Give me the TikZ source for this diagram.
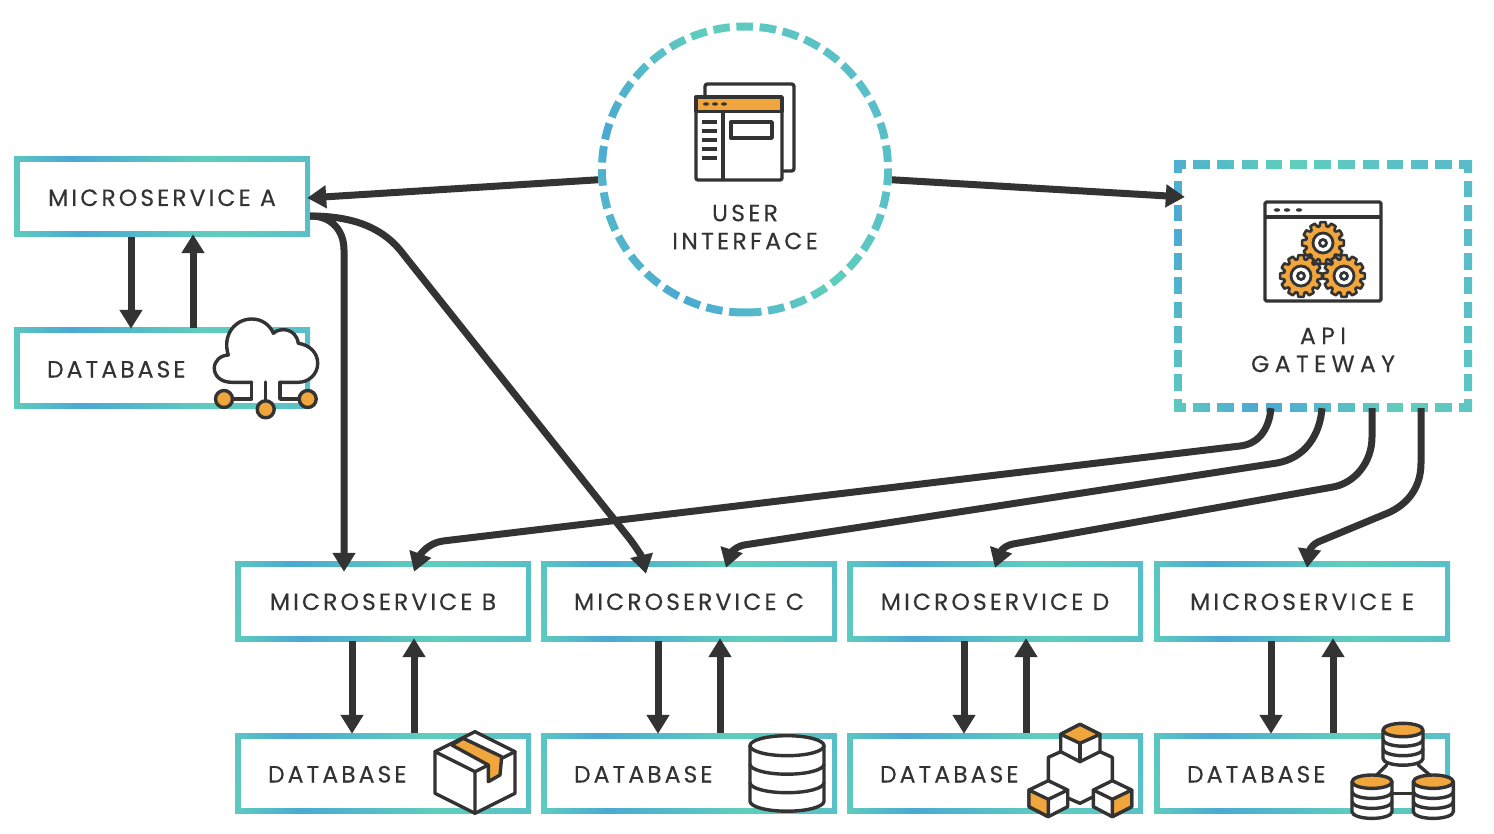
\documentclass[tikz,border=0pt]{standalone}
\usepackage{fontspec}
\setmainfont{Poppins}[LetterSpace=13, FakeBold=0.25]
\newfontfamily\uifont{Poppins}[LetterSpace=14, FakeBold=0.25]
\newfontfamily\gwfont{Poppins}[LetterSpace=23, FakeBold=0.25]
\usetikzlibrary{arrows.meta}

\definecolor{ink}{HTML}{333333}
\definecolor{amber}{HTML}{F0A63C}
\definecolor{gradblue}{HTML}{4BA9D3}
\definecolor{gradteal}{HTML}{5FCEBC}
\definecolor{gradend}{HTML}{58BDC9}

\pgfdeclarehorizontalshading{boxgrad}{100bp}{color(0bp)=(gradteal); color(21bp)=(gradteal);
  color(34bp)=(gradblue); color(59bp)=(gradteal); color(80bp)=(gradend); color(100bp)=(gradend)}
\pgfdeclarehorizontalshading{ringgrad}{100bp}{color(0bp)=(gradteal); color(15bp)=(gradteal);
  color(31bp)=(gradblue); color(54bp)=(gradteal); color(76bp)=(gradend); color(100bp)=(gradend)}

% cx, top y, rx, ry, step, lid colour
\newcommand{\dbstack}[6]{
  \draw[icon, fill=white] (#1-#3,#2) -- (#1-#3,#2+3*#5)
    arc[start angle=180, end angle=0, x radius=#3, y radius=#4] -- (#1+#3,#2);
  \draw[icon, fill=#6] (#1,#2) ellipse[x radius=#3, y radius=#4];
  \foreach \k in {1,2}
    \draw[icon] (#1-#3,#2+\k*#5) arc[start angle=180, end angle=0, x radius=#3, y radius=#4];
}

\begin{document}
\begin{tikzpicture}[x=1pt, y=-1pt,
    txt/.style={text=ink, inner sep=0pt, font=\fontsize{23.5}{28}\selectfont, align=center},
    msbox/.style={txt, text height=18pt, text depth=0pt, minimum width=296pt, minimum height=80pt,
      shade, shading=boxgrad, shading angle=8,
      path picture={\fill[white] ([shift={(5.5pt,5.5pt)}]path picture bounding box.south west)
        rectangle ([shift={(-5.5pt,-5.5pt)}]path picture bounding box.north east);}},
    dbbox/.style={msbox, text height=19pt, text width=230pt, align=left},
    uiring/.style={circle, minimum size=294pt, inner sep=0pt, shade, shading=ringgrad, shading angle=25,
      path picture={\fill[white] (path picture bounding box.center) circle (139pt);}},
    gwbox/.style={minimum width=298pt, minimum height=250pt, inner sep=0pt, shade, shading=ringgrad, shading angle=25,
      path picture={\fill[white] ([shift={(8pt,8pt)}]path picture bounding box.south west)
        rectangle ([shift={(-8pt,-8pt)}]path picture bounding box.north east);}},
    gapline/.style={white, line width=11pt},
    link/.style={draw=ink, line width=7pt, -{Triangle[width=22pt, length=19pt]}},
    icon/.style={draw=ink, line width=3.4pt, line join=round, line cap=round},
    gearicon/.pic={
      \draw[icon, line width=2.6pt, fill=amber] (-12:17) \foreach \t in {0,30,...,330}{
        -- (\t-12:17) -- (\t-7:21) -- (\t+7:21) -- (\t+12:17)} -- cycle;
      \draw[icon, line width=2.8pt, fill=white] (0,0) circle (10);
      \draw[icon, line width=2.8pt] (0,0) circle (3.5);
    }]

  \useasboundingbox (0,0) rectangle (1494,834);

  % boxes
  \node[msbox] (msa) at (162,197) {MICROSERVICE A};
  \node[dbbox] (dba) at (162,368) {DATABASE};
  \node[msbox] (msb) at (383,601) {MICROSERVICE B};
  \node[dbbox] (dbb) at (383,773) {DATABASE};
  \node[msbox] (msc) at (689,601) {MICROSERVICE C};
  \node[dbbox] (dbc) at (689,773) {DATABASE};
  \node[msbox] (msd) at (995,601) {MICROSERVICE D};
  \node[dbbox] (dbd) at (995,773) {DATABASE};
  \node[msbox] (mse) at (1302,601) {MICROSERVICE E};
  \node[dbbox] (dbe) at (1302,773) {DATABASE};

  \node[uiring] (ui) at (745,169.5) {};
  \draw[gapline, dash pattern=on 6.5pt off 16.73pt] ([shift={(96.4:143)}]ui.center)
    arc[start angle=96.4, delta angle=347.2, radius=143];
  \node[txt, font=\fontsize{23.5}{28}\uifont] (uilabel) at (745,227) {USER\\INTERFACE};

  \node[gwbox] (gw) at (1323,286) {};
  \draw[gapline, dash pattern=on 7.6pt off 16.6pt, dash phase=12.5pt]
    ([yshift=-4pt]gw.north west) -- ([yshift=-4pt]gw.north east)
    ([yshift=4pt]gw.south west) -- ([yshift=4pt]gw.south east);
  \draw[gapline, dash pattern=on 7.6pt off 16.6pt, dash phase=11.9pt]
    ([xshift=4pt]gw.north west) -- ([xshift=4pt]gw.south west)
    ([xshift=-4pt]gw.north east) -- ([xshift=-4pt]gw.south east);
  \node[txt, font=\fontsize{23.5}{28}\gwfont] (gwlabel) at (1323,350) {API\\GATEWAY};

  % service <-> database
  \draw[link] ([xshift=-31pt]msa.south) -- ([xshift=-31pt,yshift=-1pt]dba.north);
  \draw[link] ([xshift=31pt]dba.north) -- ([xshift=31pt,yshift=3pt]msa.south);
  \draw[link] ([xshift=-31pt]msb.south) -- ([xshift=-31pt,yshift=-1pt]dbb.north);
  \draw[link] ([xshift=31pt]dbb.north) -- ([xshift=31pt,yshift=3pt]msb.south);
  \draw[link] ([xshift=-31pt]msc.south) -- ([xshift=-31pt,yshift=-1pt]dbc.north);
  \draw[link] ([xshift=31pt]dbc.north) -- ([xshift=31pt,yshift=3pt]msc.south);
  \draw[link] ([xshift=-31pt]msd.south) -- ([xshift=-31pt,yshift=-1pt]dbd.north);
  \draw[link] ([xshift=31pt]dbd.north) -- ([xshift=31pt,yshift=3pt]msd.south);
  \draw[link] ([xshift=-31pt]mse.south) -- ([xshift=-31pt,yshift=-1pt]dbe.north);
  \draw[link] ([xshift=31pt]dbe.north) -- ([xshift=31pt,yshift=3pt]mse.south);

  % user interface
  \draw[link] (ui.184.5) -- ([xshift=-3pt,yshift=-1pt]msa.east);
  \draw[link] (ui.-4.5) -- ([shift={(11pt,89pt)}]gw.west);

  % microservice A
  \draw[link] ([yshift=-19pt]msa.east) .. controls (333,216) and (344,232) .. (344,250)
    -- ([shift={(-39pt,-11pt)}]msb.north);
  \draw[link] ([yshift=-19pt]msa.east) .. controls (350,216) and (380,226) .. (400,250)
    -- (625,533) .. controls (635,545) and (642,557) .. ([shift={(-43pt,-13pt)}]msc.north);

  % gateway
  \draw[link] ([xshift=-52pt,yshift=3pt]gw.south) .. controls (1269,430) and (1258,444) .. (1240,446)
    -- (443,541) .. controls (428,543) and (420,555) .. ([shift={(31pt,-11pt)}]msb.north);
  \draw[link] ([xshift=-1pt,yshift=3pt]gw.south) .. controls (1320,435) and (1305,458) .. (1277,463)
    -- (744,545) .. controls (734,547) and (730,555) .. ([shift={(37pt,-7pt)}]msc.north);
  \draw[link] ([xshift=49pt,yshift=3pt]gw.south) -- (1372,437) .. controls (1372,462) and (1355,483) .. (1333,487)
    -- (1013,544) .. controls (1003,546) and (1000,553) .. ([shift={(0pt,-7pt)}]msd.north);
  \draw[link] ([xshift=98pt,yshift=3pt]gw.south) -- (1421,463) .. controls (1421,490) and (1405,507) .. (1383,515)
    -- (1318,542) .. controls (1310,546) and (1309,553) .. ([shift={(5pt,-7pt)}]mse.north);

  % cloud
  \draw[icon, fill=white] (251.7,382.3) -- (231.7,382.3) .. controls (221,382.3) and (214.3,376) .. (214.3,368.3)
    .. controls (214.3,361) and (220,355.5) .. (228.3,355) .. controls (222,335) and (235,319) .. (251.7,319)
    .. controls (262,319) and (270,325) .. (273.3,333.3) .. controls (280,327) and (296,328) .. (298.3,343.3)
    .. controls (310,345) and (317.7,353) .. (317.7,363.3) .. controls (317.7,374) and (309,382.3) .. (298.3,382.3)
    -- (280,382.3);
  \draw[icon] (251.7,382.3) -- (251.7,399) -- (232,399);
  \draw[icon] (280,382.3) -- (280,399) -- (298,399);
  \draw[icon] (265.7,382) -- (265.7,400);
  \draw[icon, fill=amber] (224,399) circle (8.5);
  \draw[icon, fill=amber] (307.7,399) circle (8.5);
  \draw[icon, fill=amber] (265.7,409.3) circle (8.5);

  % parcel
  \draw[icon, fill=white] (475,731.7) -- (515,751.7) -- (515,793.3) -- (475,813.3) -- (435,793.3) -- (435,751.7) -- cycle;
  \draw[icon] (435,751.7) -- (475,771.7) -- (515,751.7) (475,771.7) -- (475,813.3);
  \draw[icon, fill=amber] (451.7,745) -- (463.3,738.3) -- (501.7,756.7) -- (500,775) -- (488.3,781.7) -- (488.3,765) -- cycle;

  % drum
  \dbstack{787}{745.7}{37}{10}{18.5}{white}

  % cubes
  \draw[icon] (1060.7,751.7) -- (1048.3,757.3) -- (1048.3,780.7);
  \draw[icon] (1100,751.7) -- (1112.3,757.3) -- (1112.3,780.7);
  \draw[icon] (1067.7,798) -- (1080,803.3) -- (1093.3,796.7);
  \draw[icon, fill=white] (1080,724.3) -- (1100,734.3) -- (1100,751.7) -- (1080,761.7) -- (1060.7,751.7) -- (1060.7,734.3) -- cycle;
  \draw[icon, fill=amber] (1080,724.3) -- (1100,734.3) -- (1080,743.3) -- (1060.7,734.3) -- cycle;
  \draw[icon] (1080,743.3) -- (1080,761.7);
  \draw[icon, fill=white] (1048.3,780.7) -- (1067.7,790) -- (1067.7,806.7) -- (1048.3,816.7) -- (1029,806.7) -- (1029,790) -- cycle;
  \draw[icon, fill=amber] (1029,790) -- (1048.3,799.3) -- (1048.3,816.7) -- (1029,806.7) -- cycle;
  \draw[icon] (1048.3,799.3) -- (1067.7,790);
  \draw[icon, fill=white] (1112.3,780.7) -- (1131.7,790) -- (1131.7,806.7) -- (1112.3,816.7) -- (1093.3,806.7) -- (1093.3,790) -- cycle;
  \draw[icon, fill=amber] (1131.7,790) -- (1112.3,799.3) -- (1112.3,816.7) -- (1131.7,806.7) -- cycle;
  \draw[icon] (1112.3,799.3) -- (1093.3,790);

  % three drums
  \draw[icon] (1386.7,765) -- (1375,776.7);
  \draw[icon] (1418.3,765) -- (1431.7,776.7);
  \draw[icon] (1393,793.3) -- (1413,793.3);
  \dbstack{1403}{730}{20}{6.7}{9.5}{amber}
  \dbstack{1372}{781.7}{20}{6.7}{10}{amber}
  \dbstack{1433.3}{781.7}{20}{6.7}{10}{amber}

  % user interface icon
  \draw[icon, rounded corners=2.5pt] (705,97) -- (705,84) -- (794,84) -- (794,171) -- (782,171);
  \draw[icon, fill=white, rounded corners=2pt] (696,97) rectangle (782,180);
  \draw[icon, fill=amber] (696,97) rectangle (782,111.5);
  \foreach \px in {706,715,724}
    \fill[ink] (\px,104) ellipse [x radius=3, y radius=1.7];
  \draw[icon, line cap=butt] (723,111.5) -- (723,180);
  \foreach \py in {122,131,140,149,158}
    \draw[icon, line cap=butt] (702,\py) -- (717,\py);
  \draw[icon, line cap=butt] (731,122) rectangle (772,138);

  % gateway icon
  \draw[icon, rounded corners=1.5pt] (1265,202) rectangle (1381,301);
  \draw[icon, line cap=butt] (1265,217) -- (1381,217);
  \foreach \px in {1277,1287,1299}
    \fill[ink] (\px,210) ellipse [x radius=3.2, y radius=1.8];
  \pic at (1323,243) {gearicon};
  \pic at (1301,276) {gearicon};
  \pic at (1344,276) {gearicon};
\end{tikzpicture}
\end{document}
